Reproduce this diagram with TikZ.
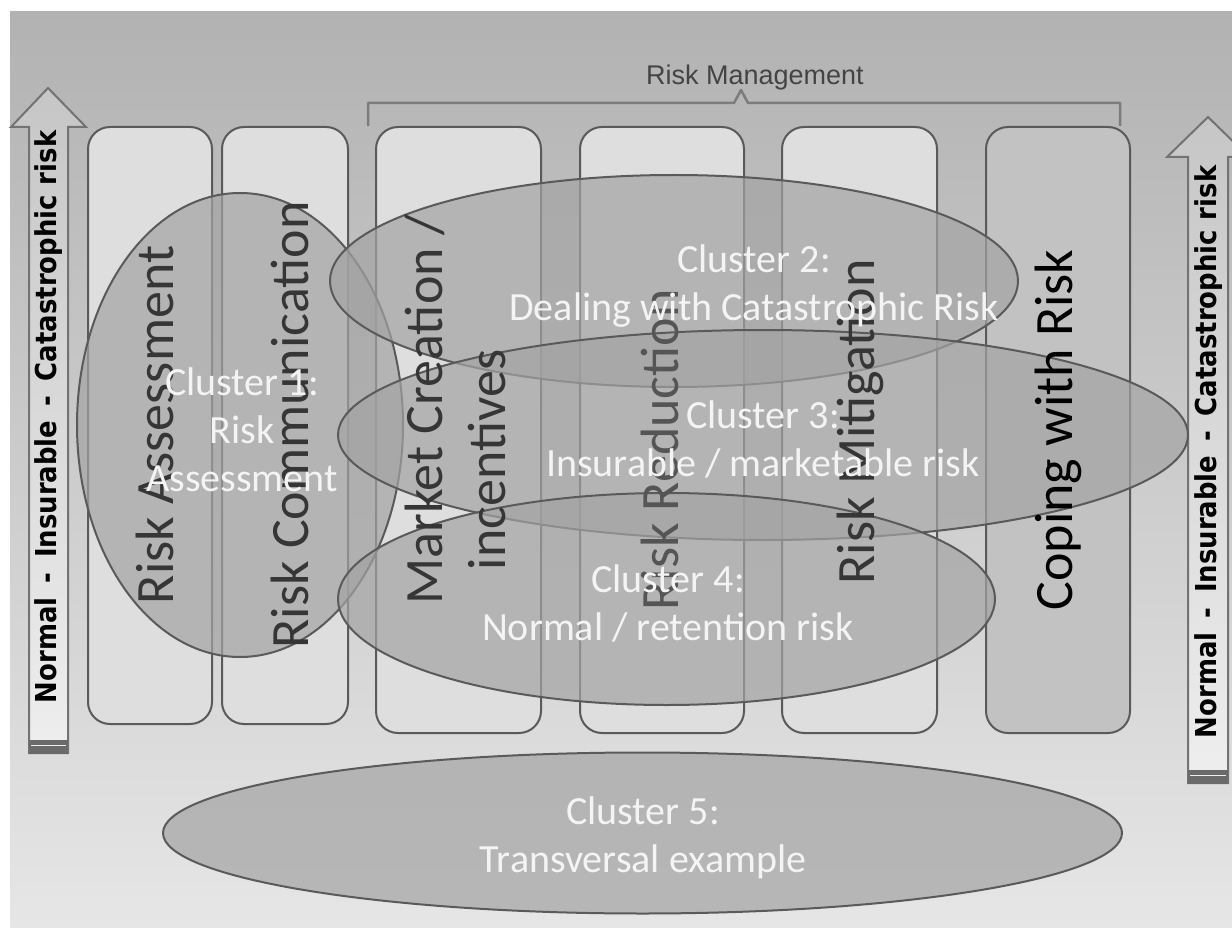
\documentclass[tikz,border=0pt]{standalone}
\usepackage{fontspec}
\setmainfont{Carlito}
\newfontfamily\arialf{Liberation Sans}
\newfontfamily\condf{DejaVu Sans Condensed}
\usetikzlibrary{shapes.geometric}
\definecolor{bgtop}{HTML}{B2B2B2}
\definecolor{bgmid}{HTML}{C4C4C4}
\definecolor{bgbot}{HTML}{E6E6E6}
\definecolor{colfill}{HTML}{DEDEDE}
\definecolor{copfill}{HTML}{C2C2C2}
\definecolor{edge}{HTML}{5A5A5A}
\definecolor{ellfill}{HTML}{A3A3A3}
\definecolor{coltxt}{HTML}{363636}
\definecolor{coltxtl}{HTML}{555555}
\definecolor{cltxt}{HTML}{F4F4F4}
\definecolor{bracec}{HTML}{7C7C7C}
\definecolor{rmtxt}{HTML}{444444}
\definecolor{arrtop}{HTML}{C6C6C6}
\definecolor{arrbot}{HTML}{EEEEEE}
\definecolor{stripe}{HTML}{6A6A6A}
\tikzset{
  colbox/.style={draw=edge, line width=2pt, rounded corners=22pt, fill=colfill, inner sep=0pt},
  coltext/.style={rotate=90, text=coltxt, font=\fontsize{54}{62}\selectfont, inner sep=0pt},
  cluster/.style={ellipse, draw=edge, line width=2pt, fill=ellfill, fill opacity=0.7, inner sep=0pt},
  cltext/.style={text=cltxt, font=\fontsize{40}{48}\selectfont, align=center, inner sep=0pt},
  arrowtext/.style={rotate=90, text=black, font=\condf\bfseries\fontsize{28.8}{34}\selectfont, inner sep=0pt},
  arrowshape/.style={draw=edge!85, line width=2pt, top color=arrtop, bottom color=arrbot},
}
\newcommand{\gapdash}{\hspace{0.5em}-\hspace{0.5em}}
\begin{document}
\begin{tikzpicture}[x=1pt,y=-1pt]
\useasboundingbox (0,0) rectangle (1232,928);
\fill[white] (0,0) rectangle (1232,928);
% background
\shade[top color=bgtop, middle color=bgmid, bottom color=bgbot] (10,12) rectangle (1232,928);

% brace and title
\draw[bracec, line width=2.5pt, line join=round] (368,126) -- (368,103) -- (734,103) -- (741,90) -- (748,103) -- (1120,103) -- (1120,126);
\node[text=rmtxt, font=\arialf\fontsize{27}{32}\selectfont, inner sep=0pt] (rm) at (755,78) {Risk Management};

% left arrow
\path[arrowshape] (29,753) -- (29,127) -- (11,127) -- (48,88) -- (86,127) -- (68,127) -- (68,753) -- cycle;
\fill[stripe] (29,740) rectangle (68,754);
\draw[arrbot, line width=1.5pt] (31,745.5) -- (66,745.5);
\node[arrowtext] (la) at (49,417) {Normal\gapdash Insurable\gapdash Catastrophic\hspace{0.35em}risk};

% right arrow
\path[arrowshape] (1188,783) -- (1188,157) -- (1167,157) -- (1208,117) -- (1249,157) -- (1228,157) -- (1228,783) -- cycle;
\fill[stripe] (1188,770) rectangle (1228,784);
\draw[arrbot, line width=1.5pt] (1190,775.5) -- (1226,775.5);
\node[arrowtext] (ra) at (1209,452) {Normal\gapdash Insurable\gapdash Catastrophic\hspace{0.35em}risk};

% columns
\node[colbox, minimum width=124pt, minimum height=597pt] (c1) at (150,425.5) {};
\node[colbox, minimum width=126pt, minimum height=597pt] (c2) at (285,425.5) {};
\node[colbox, minimum width=165pt, minimum height=606pt] (c3) at (458.5,430) {};
\node[colbox, minimum width=164pt, minimum height=606pt] (c4) at (662,430) {};
\node[colbox, minimum width=155pt, minimum height=606pt] (c5) at (859.5,430) {};
\node[colbox, fill=copfill, minimum width=144pt, minimum height=606pt] (c6) at (1058,430) {};

% clusters
\node[cluster, minimum width=326pt, minimum height=464pt] (k1) at (240,425) {};
\node[cluster, minimum width=688pt, minimum height=212pt] (k2) at (674,281) {};
\node[cluster, minimum width=850pt, minimum height=210pt] (k3) at (763,435) {};
\node[cluster, minimum width=657pt, minimum height=212pt] (k4) at (666.5,599) {};
\node[cluster, minimum width=959pt, minimum height=161pt] (k5) at (642.5,833) {};

% column labels
\node[coltext] (t1) at (155,425) {Risk Assessment};
\node[coltext] (t2) at (290,425) {Risk Communication};
\node[coltext] (t3a) at (425,410) {Market Creation /};
\node[coltext] (t3b) at (487,460) {incentives};
\node[coltext, text=coltxtl] (t4) at (660,450) {Risk Reduction};
\node[coltext] (t5) at (860,422) {Risk Mitigation};
\node[coltext, text=black] (t6) at (1058,430) {Coping with Risk};

% cluster labels
\node[cltext] (l1) at (242,430) {Cluster 1:\\Risk\\Assessment};
\node[cltext] (l2) at (754,286) {Cluster 2:\\Dealing with Catastrophic Risk};
\node[cltext] (l3) at (763,439) {Cluster 3:\\Insurable / marketable risk};
\node[cltext] (l4) at (668,603) {Cluster 4:\\Normal / retention risk};
\node[cltext] (l5) at (643,838) {Cluster 5:\\Transversal example};
\end{tikzpicture}
\end{document}
